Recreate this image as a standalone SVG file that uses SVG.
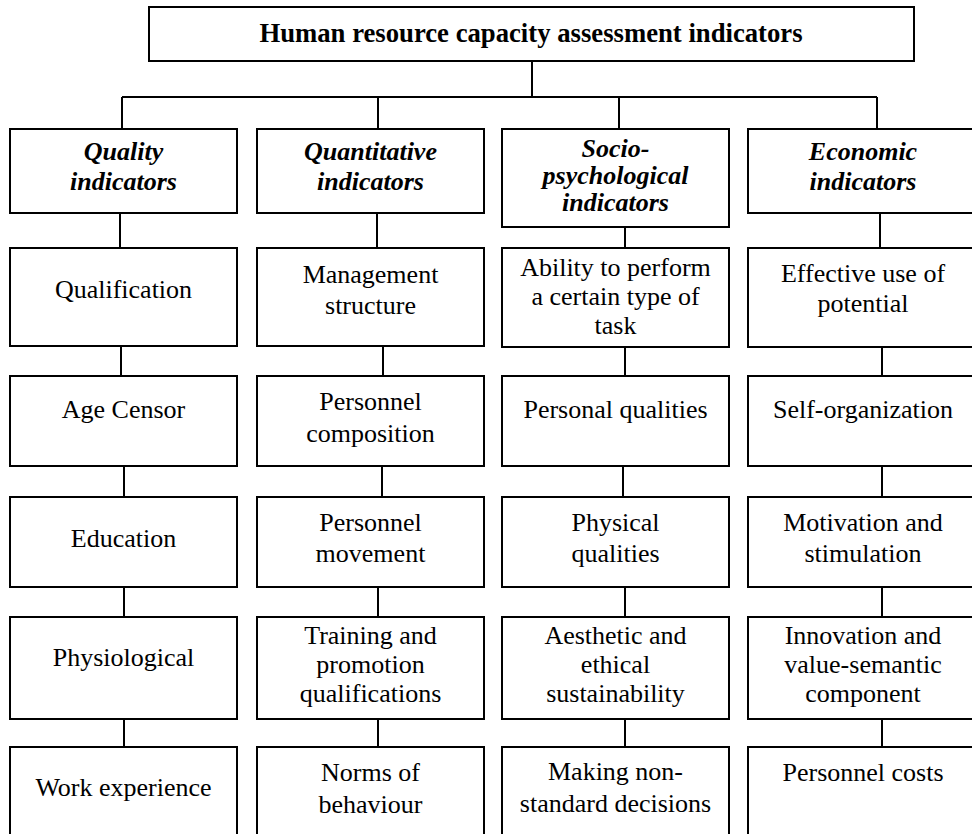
<svg xmlns="http://www.w3.org/2000/svg" width="972" height="834" viewBox="0 0 972 834">
<style>
.box{fill:#fff;stroke:#000;stroke-width:2}
.ln{stroke:#000;stroke-width:2;fill:none}
.tx text{font-size:26px;fill:#000;text-anchor:middle}
.tx text.t{font-weight:bold;font-size:26.7px}
.h{font-weight:bold;font-style:italic}
</style>
<rect width="972" height="834" fill="#fff"/>
<g id="connectors">
<path class="ln" d="M532 61V97M122 97H877M122 97V129M378 97V129M619 97V129M877 97V129"/>
<path class="ln" d="M120 213V248M377 213V248M625 227V248M880 213V248"/>
<path class="ln" d="M121 346V376M383 346V376M625 347V376M882 347V376"/>
<path class="ln" d="M124 466V497M382 466V497M623 466V497M882 466V497"/>
<path class="ln" d="M124 587V617M378 587V617M625 587V617M882 587V617"/>
<path class="ln" d="M124 719V747M378 719V747M625 719V747M882 719V747"/>
</g>
<g class="tx" font-family="'Liberation Serif', 'DejaVu Serif', 'Times New Roman', serif">
<g id="root"><rect class="box" x="149" y="7" width="765" height="54"/><text class="t" x="531" y="42">Human resource capacity assessment indicators</text></g>
<g id="h1"><rect class="box" x="10" y="129" width="227" height="84"/><text class="h" x="123.5" y="160">Quality</text><text class="h" x="123.5" y="190">indicators</text></g>
<g id="h2"><rect class="box" x="257" y="129" width="227" height="84"/><text class="h" x="370.5" y="160">Quantitative</text><text class="h" x="370.5" y="190">indicators</text></g>
<g id="h3"><rect class="box" x="502" y="129" width="227" height="98"/><text class="h" x="615.5" y="157">Socio-</text><text class="h" x="615.5" y="184">psychological</text><text class="h" x="615.5" y="211">indicators</text></g>
<g id="h4"><rect class="box" x="748" y="129" width="232" height="84"/><text class="h" x="863" y="160">Economic</text><text class="h" x="863" y="190">indicators</text></g>

<g id="c1r2"><rect class="box" x="10" y="248" width="227" height="98"/><text x="123.5" y="298">Qualification</text></g>
<g id="c2r2"><rect class="box" x="257" y="248" width="227" height="98"/><text x="370.5" y="283">Management</text><text x="370.5" y="314">structure</text></g>
<g id="c3r2"><rect class="box" x="502" y="248" width="227" height="99"/><text x="615.5" y="276">Ability to perform</text><text x="615.5" y="305">a certain type of</text><text x="615.5" y="334">task</text></g>
<g id="c4r2"><rect class="box" x="748" y="248" width="232" height="99"/><text x="863" y="282">Effective use of</text><text x="863" y="312">potential</text></g>

<g id="c1r3"><rect class="box" x="10" y="376" width="227" height="90"/><text x="123.5" y="418">Age Censor</text></g>
<g id="c2r3"><rect class="box" x="257" y="376" width="227" height="90"/><text x="370.5" y="410">Personnel</text><text x="370.5" y="442">composition</text></g>
<g id="c3r3"><rect class="box" x="502" y="376" width="227" height="90"/><text x="615.5" y="418">Personal qualities</text></g>
<g id="c4r3"><rect class="box" x="748" y="376" width="232" height="90"/><text x="863" y="418">Self-organization</text></g>

<g id="c1r4"><rect class="box" x="10" y="497" width="227" height="90"/><text x="123.5" y="547">Education</text></g>
<g id="c2r4"><rect class="box" x="257" y="497" width="227" height="90"/><text x="370.5" y="531">Personnel</text><text x="370.5" y="562">movement</text></g>
<g id="c3r4"><rect class="box" x="502" y="497" width="227" height="90"/><text x="615.5" y="531">Physical</text><text x="615.5" y="562">qualities</text></g>
<g id="c4r4"><rect class="box" x="748" y="497" width="232" height="90"/><text x="863" y="531">Motivation and</text><text x="863" y="562">stimulation</text></g>

<g id="c1r5"><rect class="box" x="10" y="617" width="227" height="102"/><text x="123.5" y="666">Physiological</text></g>
<g id="c2r5"><rect class="box" x="257" y="617" width="227" height="102"/><text x="370.5" y="644">Training and</text><text x="370.5" y="673">promotion</text><text x="370.5" y="702">qualifications</text></g>
<g id="c3r5"><rect class="box" x="502" y="617" width="227" height="102"/><text x="615.5" y="644">Aesthetic and</text><text x="615.5" y="673">ethical</text><text x="615.5" y="702">sustainability</text></g>
<g id="c4r5"><rect class="box" x="748" y="617" width="232" height="102"/><text x="863" y="644">Innovation and</text><text x="863" y="673">value-semantic</text><text x="863" y="702">component</text></g>

<g id="c1r6"><rect class="box" x="10" y="747" width="227" height="100"/><text x="123.5" y="796">Work experience</text></g>
<g id="c2r6"><rect class="box" x="257" y="747" width="227" height="100"/><text x="370.5" y="781">Norms of</text><text x="370.5" y="813">behaviour</text></g>
<g id="c3r6"><rect class="box" x="502" y="747" width="227" height="100"/><text x="615.5" y="780">Making non-</text><text x="615.5" y="812">standard decisions</text></g>
<g id="c4r6"><rect class="box" x="748" y="747" width="232" height="100"/><text x="863" y="781">Personnel costs</text></g>
</g>
</svg>
